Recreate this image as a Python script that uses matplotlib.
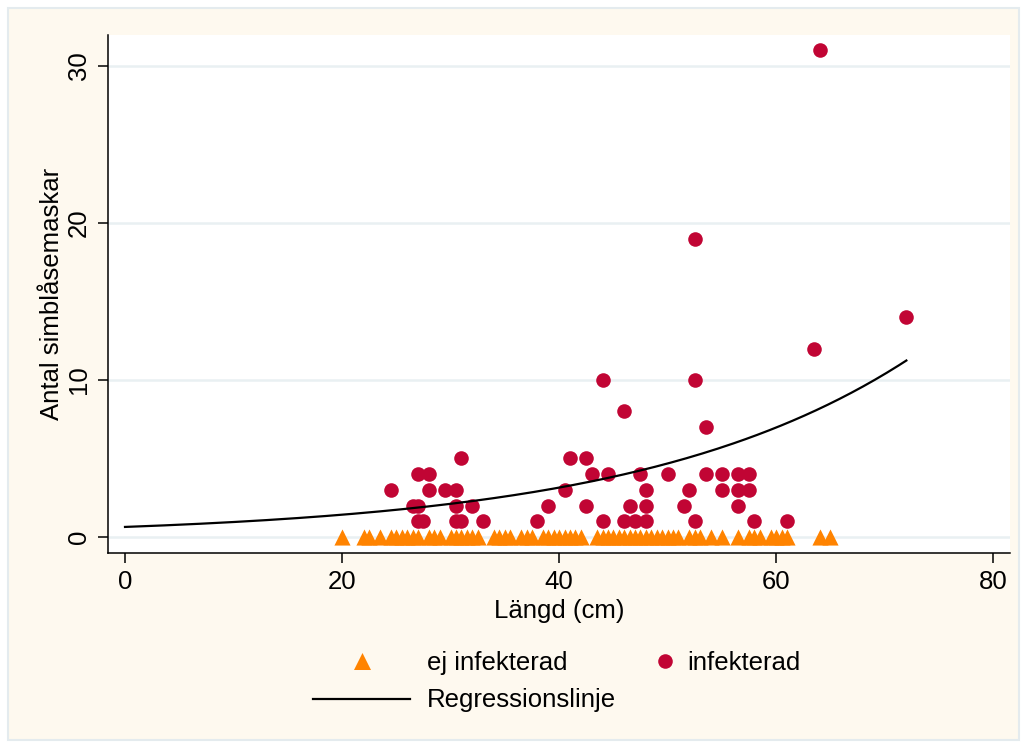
import matplotlib
matplotlib.use("Agg")
import matplotlib.pyplot as plt
import numpy as np
from matplotlib.patches import Rectangle

plt.rcParams['font.family'] = ['Liberation Sans', 'DejaVu Sans']

# ---------------- data ----------------
ej_length = [20, 22, 22.5, 23.5, 24.5, 25, 25.5, 26, 26.5, 27, 28, 28.5, 29,
             30, 30.5, 31, 31.5, 32, 32.5, 34, 34.5, 35, 35.5, 36.5, 37, 37.5,
             38.5, 39, 39.5, 40, 40.5, 41, 41.5, 42, 43.5, 44, 44.5, 45, 45.5,
             46, 46.5, 47, 47.5, 48, 48.5, 49, 49.5, 50, 50.5, 51, 52, 52.5,
             53, 54, 55, 56.5, 57.5, 58, 58.5, 59.5, 60, 60.5, 61, 64, 65]
ej_count = [0] * len(ej_length)

inf_length = [27.0, 27.5, 30.5, 31.0, 33.0, 38.0, 44.0, 46.0, 47.0, 48.0, 52.5, 58.0, 61.0,
              26.5, 27.0, 30.5, 32.0, 39.0, 42.5, 46.5, 48.0, 51.5, 56.5,
              24.5, 28.0, 29.5, 30.5, 40.5, 48.0, 52.0, 55.0, 56.5, 57.5,
              27.0, 28.0, 43.0, 44.5, 47.5, 50.0, 53.5, 55.0, 56.5, 57.5,
              31.0, 41.0, 42.5,
              53.5, 46.0, 44.0, 52.5, 63.5, 72.0, 52.5, 64.0]
inf_count = [1] * 13 + [2] * 10 + [3] * 10 + [4] * 10 + [5] * 3 + \
            [7, 8, 10, 10, 12, 14, 19, 31]

# Poisson regression line: y = exp(b0 + b1 * x)
reg_b0 = np.log(0.64)
reg_b1 = 0.0398
reg_x_range = [0, 72]

x_ticks = [0, 20, 40, 60, 80]
y_ticks = [0, 10, 20, 30]

labels = ["ej infekterad", "infekterad", "Regressionslinje"]
xlabel = "Längd (cm)"
ylabel = "Antal simblåsemaskar"

# ---------------- styling ----------------
W, H = 1024, 748
ORANGE = '#ff8300'
RED = '#c10534'
CREAM = '#fef9ef'
GRID = '#e9f0f2'
FS = 18.5

fig = plt.figure(figsize=(W / 100, H / 100), dpi=100)
fig.patch.set_facecolor('white')
fig.patches.append(Rectangle((8 / W, 8 / H), (1019 - 8) / W, (740 - 8) / H,
                             transform=fig.transFigure, facecolor=CREAM,
                             edgecolor='#e4ebee', lw=1.5, zorder=-10))

ax = fig.add_axes([108 / W, 1 - 553 / H, (1010 - 108) / W, (553 - 35) / H])
ax.set_facecolor('white')
ax.set_xlim(-1.567, 81.55)
ax.set_ylim(-1.02, 31.97)

for s in ['top', 'right']:
    ax.spines[s].set_visible(False)
for s in ['left', 'bottom']:
    ax.spines[s].set_linewidth(1.1)
    ax.spines[s].set_color('black')

ax.set_xticks(x_ticks)
ax.set_yticks(y_ticks)
ax.tick_params(axis='both', direction='out', length=7.5, width=1.1,
               labelsize=FS, pad=5)
plt.setp(ax.get_yticklabels(), rotation=90, va='center')
ax.yaxis.grid(True, color=GRID, lw=1.8)
ax.set_axisbelow(True)

ax.scatter(ej_length, ej_count, marker='^', s=135, color=ORANGE,
           linewidths=0, zorder=2)
ax.scatter(inf_length, inf_count, marker='o', s=110, color=RED,
           linewidths=0, zorder=3)
xr = np.linspace(reg_x_range[0], reg_x_range[1], 200)
ax.plot(xr, np.exp(reg_b0 + reg_b1 * xr), color='black', lw=1.6, zorder=4)

ax.set_xlabel(xlabel, fontsize=FS, labelpad=3)
ax.set_ylabel(ylabel, fontsize=FS, labelpad=2)

# ---------------- legend (manual, Stata style) ----------------
lax = fig.add_axes([0, 0, 1, 1])
lax.set_xlim(0, W)
lax.set_ylim(H, 0)
lax.axis('off')
lax.scatter([362], [661], marker='^', s=150, color=ORANGE, linewidths=0)
lax.text(427, 663, labels[0], fontsize=FS, va='center', ha='left')
lax.scatter([665], [661], marker='o', s=110, color=RED, linewidths=0)
lax.text(687, 663, labels[1], fontsize=FS, va='center', ha='left')
lax.plot([313, 410], [699, 699], color='black', lw=1.6)
lax.text(427, 700, labels[2], fontsize=FS, va='center', ha='left')

fig.savefig('out.png', dpi=100, facecolor=fig.get_facecolor())
